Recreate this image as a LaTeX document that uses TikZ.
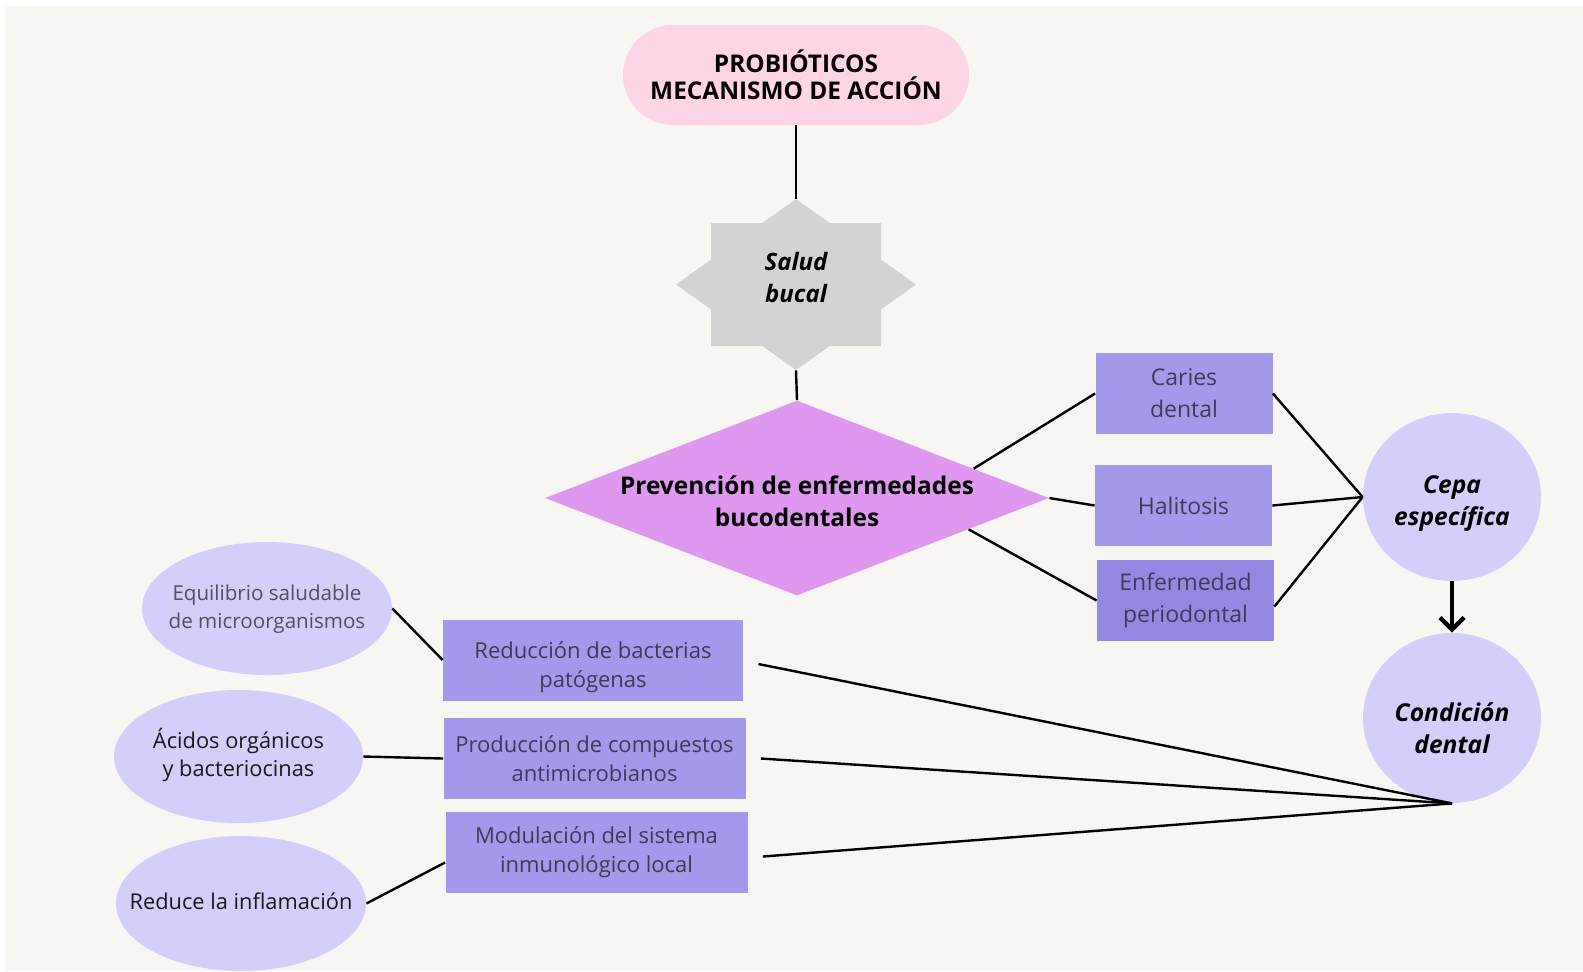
\documentclass[tikz,border=0pt]{standalone}
\usepackage{fontspec}
\setmainfont{Open Sans}
\usetikzlibrary{shapes.geometric,arrows.meta,calc}
\definecolor{bgc}{HTML}{F7F6F2}
\definecolor{pinkc}{HTML}{FED5E6}
\definecolor{grayc}{HTML}{D3D3D3}
\definecolor{diac}{HTML}{DE98EF}
\definecolor{boxc}{HTML}{A498EB}
\definecolor{boxd}{HTML}{9588E2}
\definecolor{lavc}{HTML}{D4CEFB}
\definecolor{boxtext}{HTML}{3E3B55}
\definecolor{lighttext}{HTML}{505060}
\newcommand{\tb}[1]{\begin{tabular}{@{}c@{}}#1\end{tabular}}
\newcommand{\zt}[1]{\makebox[0pt][c]{\tb{#1}}}
\newcommand{\zr}[2]{\makebox[0pt][c]{\raisebox{#1}[0pt][0pt]{\tb{#2}}}}
\tikzset{
  conn/.style={line width=1.2pt, black},
  boxR/.style={rectangle, fill=boxc, minimum width=88.5pt, minimum height=40.5pt, inner sep=0pt, align=center, text=boxtext, font=\fontsize{11.5}{16}\selectfont},
  boxL/.style={rectangle, fill=boxc, minimum width=151pt, minimum height=40.5pt, inner sep=0pt, align=center, text=boxtext, font=\fontsize{11}{14.5}\selectfont},
  oval/.style={ellipse, fill=lavc, minimum width=125pt, minimum height=66.5pt, inner sep=0pt, align=center, font=\fontsize{10.9}{14}\selectfont},
  bigc/.style={ellipse, fill=lavc, minimum width=89pt, minimum height=84pt, inner sep=0pt, align=center, font=\bfseries\itshape\fontsize{12.3}{16}\selectfont},
}
\begin{document}
\begin{tikzpicture}[x=0.5pt,y=-0.5pt]
\useasboundingbox (0,0) rectangle (1583,971);
\fill[white] (0,0) rectangle (1583,971);
\fill[bgc] (5,6) rectangle (1583,971);

% title
\node[rectangle, rounded corners=25pt, fill=pinkc, minimum width=173pt, minimum height=50pt, inner sep=0pt, align=center, font=\bfseries\fontsize{12.2}{13.5}\selectfont] (title) at (796,75) {PROBIÓTICOS\\MECANISMO DE ACCIÓN};

% star
\fill[grayc] (796,284.5) ++(0,-85.5) -- ++(33.7,24) -- ++(51.3,0) -- ++(0,36.6) -- ++(35,24.9)
  -- ++(-35,24.9) -- ++(0,36.6) -- ++(-51.3,0) -- ++(-33.7,24) -- ++(-33.7,-24) -- ++(-51.3,0)
  -- ++(0,-36.6) -- ++(-35,-24.9) -- ++(35,-24.9) -- ++(0,-36.6) -- ++(51.3,0) -- cycle;
\node[rectangle, minimum width=120pt, minimum height=85.5pt, inner sep=0pt, align=center, font=\bfseries\itshape\fontsize{12}{16}\selectfont] (star) at (796,284.5) {\zr{-0.75pt}{Salud\\bucal}};

% diamond
\node[diamond, aspect=2.58, fill=diac, minimum width=252pt, minimum height=97.5pt, inner sep=0pt, align=center, font=\bfseries\fontsize{12.2}{16}\selectfont] (prev) at (797,498) {\zr{-5.85pt}{Prevención de enfermedades\\bucodentales}};

% right boxes
\node[boxR] (caries) at (1184,393.5) {Caries\\dental};
\node[boxR] (hali) at (1183.5,505.5) {Halitosis};
\node[boxR, fill=boxd] (enf) at (1185.5,600.5) {Enfermedad\\periodontal};

% circles
\node[bigc] (cepa) at (1452,497) {\zr{-5.85pt}{Cepa\\específica}};
\node[bigc, minimum height=85pt] (cond) at (1452,718) {\zr{-9.35pt}{Condición\\dental}};

% lower boxes
\node[boxL, minimum width=150pt] (red) at (593,660) {\zr{-6.25pt}{Reducción de bacterias\\patógenas}};
\node[boxL] (prod) at (594.5,758.5) {Producción de compuestos\\antimicrobianos};
\node[boxL] (mod) at (596.5,852.5) {Modulación del sistema\\inmunológico local};

% ellipses
\node[oval, text=lighttext, font=\fontsize{10.3}{14}\selectfont] (equi) at (267,608.5) {\zt{Equilibrio saludable\\de microorganismos}};
\node[oval, minimum width=124.5pt, text=black!90] (acid) at (238.5,756.5) {\zt{Ácidos orgánicos\\y bacteriocinas}};
\node[oval, minimum height=67.5pt, text=black!90] (redu) at (241,903.5) {\zt{Reduce la inflamación}};

% connectors
\draw[conn] (title.south) -- (star.north);
\draw[conn] (star.south) -- (prev.north);
\draw[conn] ($(prev.north)!0.7!(prev.east)$) -- (caries.west);
\draw[conn] (prev.east) -- (hali.west);
\draw[conn] ($(prev.east)!0.32!(prev.south)$) -- (enf.west);
\draw[conn] (caries.east) -- (cepa.west);
\draw[conn] (hali.east) -- (cepa.west);
\draw[conn] ([yshift=-3pt]enf.east) -- (cepa.west);
\draw[line width=2.2pt, -{Straight Barb[length=6pt,width=12pt]}] (cepa.south) -- (cond.north);
\draw[conn] ([xshift=7.5pt,yshift=-2pt]red.east) -- (cond.south);
\draw[conn] ([xshift=7.5pt]prod.east) -- (cond.south);
\draw[conn] ([xshift=7.5pt,yshift=-2pt]mod.east) -- (cond.south);
\draw[conn] (equi.east) -- (red.west);
\draw[conn] (acid.east) -- (prod.west);
\draw[conn] (redu.east) -- ([yshift=-5pt]mod.west);
\end{tikzpicture}
\end{document}
